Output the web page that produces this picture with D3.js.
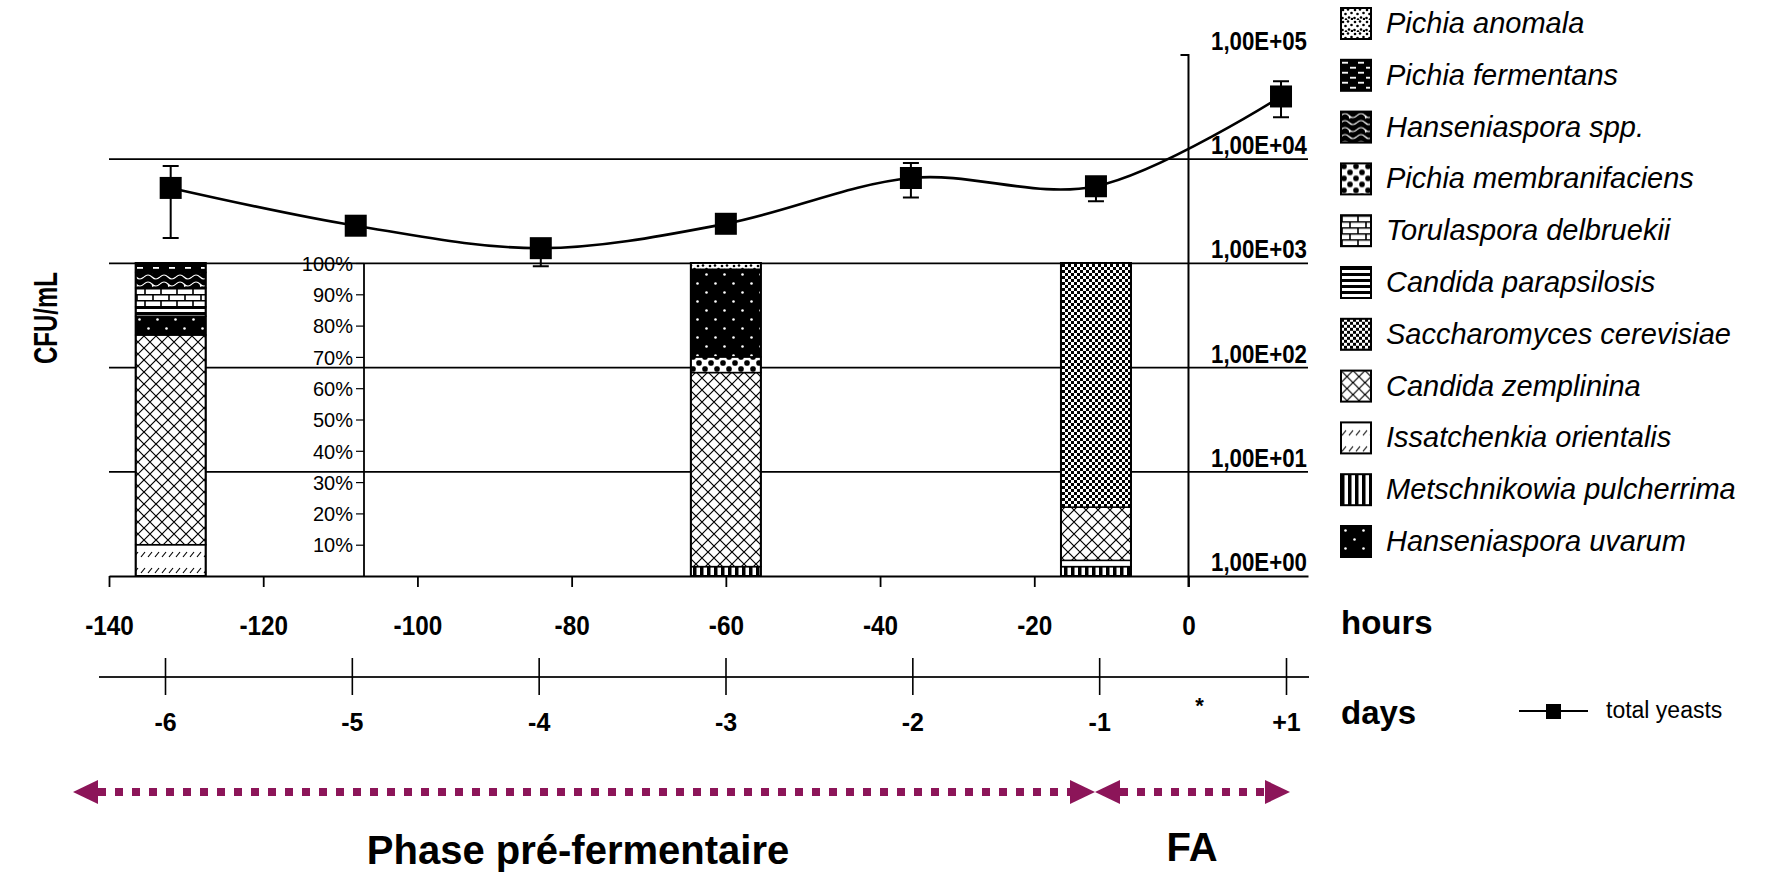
<!DOCTYPE html>
<html>
<head>
<meta charset="utf-8">
<script src="https://cdn.jsdelivr.net/npm/d3@7/dist/d3.min.js"></script>
<style>
  body { margin: 0; background: #fff; }
  svg { display: block; }
  text { font-family: "Liberation Sans", Arial, Helvetica, sans-serif; fill: #000; }
</style>
</head>
<body>
<svg id="chart" width="1770" height="873"></svg>
<script>
// ---- total yeast counts (CFU/mL) at each sampling time ----
const sampleHours = [-132, -108, -84, -60, -36, -12, 12];
const totalYeasts = [5300, 2300, 1400, 2400, 6600, 5500, 40000];
const yeastsLow   = [1750, 2050, 940, 2150, 4300, 3950, 25300];
const yeastsHigh  = [8600, 2600, 1700, 2700, 9200, 6200, 56000];

// ---- axis ticks ----
const hourTicks = [-140, -120, -100, -80, -60, -40, -20, 0];
const dayHours = [-132, -108, -84, -60, -36, -12, 12];
const dayLabels = ["-6", "-5", "-4", "-3", "-2", "-1", "+1"];
const logTicks = [1, 10, 100, 1000, 10000, 100000];
const logTickLabels = ["1,00E+00", "1,00E+01", "1,00E+02", "1,00E+03", "1,00E+04", "1,00E+05"];
const percentTicks = [10, 20, 30, 40, 50, 60, 70, 80, 90, 100];

// ---- species composition (% of isolates) at days -6, -3 and -1 ----
const barHours = [-132, -60, -12];
const species = [
  "Pichia anomala", "Pichia fermentans", "Hanseniaspora spp.", "Pichia membranifaciens",
  "Torulaspora delbruekii", "Candida parapsilosis", "Saccharomyces cerevisiae",
  "Candida zemplinina", "Issatchenkia orientalis", "Metschnikowia pulcherrima", "Hanseniaspora uvarum"
];
const pichiaAnomala            = [0, 2, 0];
const pichiaFermentans         = [3, 0, 0];
const hanseniasporaSpp         = [5, 0, 0];
const pichiaMembranifaciens    = [0, 5, 0];
const torulasporaDelbruekii    = [6, 0, 0];
const candidaParapsilosis      = [3, 0, 0];
const saccharomycesCerevisiae  = [0, 0, 78];
const candidaZemplinina        = [67, 62, 17];
const issatchenkiaOrientalis   = [10, 0, 2];
const metschnikowiaPulcherrima = [0, 3, 3];
const hanseniasporaUvarum      = [6, 28, 0];
// stacking order, bottom to top
const stackOrder = [
  "Metschnikowia pulcherrima", "Issatchenkia orientalis", "Candida zemplinina",
  "Pichia membranifaciens", "Saccharomyces cerevisiae", "Hanseniaspora uvarum",
  "Candida parapsilosis", "Torulaspora delbruekii", "Hanseniaspora spp.",
  "Pichia fermentans", "Pichia anomala"
];

const speciesValues = {
  "Pichia anomala": pichiaAnomala,
  "Pichia fermentans": pichiaFermentans,
  "Hanseniaspora spp.": hanseniasporaSpp,
  "Pichia membranifaciens": pichiaMembranifaciens,
  "Torulaspora delbruekii": torulasporaDelbruekii,
  "Candida parapsilosis": candidaParapsilosis,
  "Saccharomyces cerevisiae": saccharomycesCerevisiae,
  "Candida zemplinina": candidaZemplinina,
  "Issatchenkia orientalis": issatchenkiaOrientalis,
  "Metschnikowia pulcherrima": metschnikowiaPulcherrima,
  "Hanseniaspora uvarum": hanseniasporaUvarum
};
const patternIds = {
  "Pichia anomala": "p-pa",
  "Pichia fermentans": "p-pf",
  "Hanseniaspora spp.": "p-hs",
  "Pichia membranifaciens": "p-pm",
  "Torulaspora delbruekii": "p-td",
  "Candida parapsilosis": "p-cp",
  "Saccharomyces cerevisiae": "p-sc",
  "Candida zemplinina": "p-cz",
  "Issatchenkia orientalis": "p-io",
  "Metschnikowia pulcherrima": "p-mp",
  "Hanseniaspora uvarum": "p-hu"
};

const svg = d3.select("#chart");
const ARROW = "#8c1559";

// ---- scales ----
const x = d3.scaleLinear().domain([-140, 15.5]).range([109, 1308]);
const xDay = d3.scaleLinear().domain([-132, 12]).range([165, 1286]);
const y = d3.scaleLog().domain([1, 100000]).range([576, 55]);
const pct = d3.scaleLinear().domain([0, 100]).range([576, 263]);

// ---- fill patterns ----
const defs = svg.append("defs");
function pattern(id, w, h, bg) {
  const p = defs.append("pattern").attr("id", id).attr("patternUnits", "userSpaceOnUse")
    .attr("width", w).attr("height", h);
  p.append("rect").attr("width", w).attr("height", h).attr("fill", bg);
  return p;
}
// Pichia anomala: scattered dots
{
  const p = pattern("p-pa", 12, 12, "#fff");
  [[2,2],[7,1.5],[10.5,5],[4.5,6],[8,9.5],[1.5,10],[5,11.5],[11,11]].forEach(([cx, cy]) =>
    p.append("circle").attr("cx", cx).attr("cy", cy).attr("r", 1.3).attr("fill", "#000"));
}
// Pichia fermentans: white dashes on black
{
  const p = pattern("p-pf", 16, 10, "#000");
  p.append("rect").attr("x", 1).attr("y", 2).attr("width", 6).attr("height", 1.8).attr("fill", "#fff");
  p.append("rect").attr("x", 9).attr("y", 7).attr("width", 6).attr("height", 1.8).attr("fill", "#fff");
}
// Hanseniaspora spp.: white waves on black
{
  const p = pattern("p-hs", 16, 14, "#000");
  p.append("path").attr("d", "M0,4 Q4,0 8,4 T16,4 M0,11 Q4,7 8,11 T16,11 M8,4 L9,7")
    .attr("fill", "none").attr("stroke", "#fff").attr("stroke-width", 1.1);
}
// Pichia membranifaciens: coarse checker of rounded blobs
{
  const p = pattern("p-pm", 12, 12, "#fff");
  p.append("rect").attr("x", 0.3).attr("y", 0.3).attr("width", 5.4).attr("height", 5.4).attr("rx", 2).attr("fill", "#000");
  p.append("rect").attr("x", 6.3).attr("y", 6.3).attr("width", 5.4).attr("height", 5.4).attr("rx", 2).attr("fill", "#000");
}
// Torulaspora delbruekii: bricks
{
  const p = pattern("p-td", 16, 12, "#fff");
  p.append("path").attr("d", "M0,0.8 H16 M0,6.8 H16 M1,0 V6 M9,6 V12")
    .attr("stroke", "#000").attr("stroke-width", 1.6).attr("fill", "none");
}
// Candida parapsilosis: horizontal stripes
{
  const p = pattern("p-cp", 6, 6, "#fff");
  p.append("rect").attr("width", 6).attr("height", 3).attr("fill", "#000");
}
// Saccharomyces cerevisiae: fine checker
{
  const p = pattern("p-sc", 6, 6, "#fff");
  p.append("rect").attr("width", 3).attr("height", 3).attr("fill", "#000");
  p.append("rect").attr("x", 3).attr("y", 3).attr("width", 3).attr("height", 3).attr("fill", "#000");
}
// Candida zemplinina: diagonal crosshatch
{
  const p = pattern("p-cz", 12, 12, "#fff");
  p.append("path").attr("d", "M0,0 L12,12 M12,0 L0,12")
    .attr("stroke", "#000").attr("stroke-width", 1.2).attr("fill", "none");
}
// Issatchenkia orientalis: short slanted strokes
{
  const p = pattern("p-io", 7, 16, "#fff");
  p.append("path").attr("d", "M1,13 L5,8")
    .attr("stroke", "#000").attr("stroke-width", 1.2).attr("fill", "none");
}
// Metschnikowia pulcherrima: vertical stripes
{
  const p = pattern("p-mp", 7, 7, "#fff");
  p.append("rect").attr("width", 3.5).attr("height", 7).attr("fill", "#000");
}
// Hanseniaspora uvarum: white dots on black
{
  const p = pattern("p-hu", 18, 18, "#000");
  p.append("circle").attr("cx", 4.5).attr("cy", 4.5).attr("r", 1.3).attr("fill", "#fff");
  p.append("circle").attr("cx", 13.5).attr("cy", 13.5).attr("r", 1.3).attr("fill", "#fff");
}

// ---- decade gridlines ----
svg.append("g").selectAll("line").data(logTicks.filter(v => v > 1 && v < 100000)).join("line")
  .attr("x1", x.range()[0]).attr("x2", x.range()[1])
  .attr("y1", d => y(d)).attr("y2", d => y(d))
  .attr("stroke", "#000").attr("stroke-width", 1.8);

// decade labels on the right (condensed bold)
svg.append("g").selectAll("text").data(logTicks).join("text")
  .attr("x", 1307).attr("y", d => y(d) - 5)
  .attr("text-anchor", "end").attr("font-size", 25).attr("font-weight", "bold")
  .attr("textLength", 96).attr("lengthAdjust", "spacingAndGlyphs")
  .text((d, i) => logTickLabels[i]);

// ---- percentage axis ----
const pctAxis = svg.append("g").attr("transform", "translate(364,0)")
  .call(d3.axisLeft(pct).tickValues(percentTicks).tickSize(8).tickSizeOuter(0).tickPadding(3)
    .tickFormat(d => d + "%"));
pctAxis.select(".domain").attr("stroke-width", 1.8).attr("d", `M0,${pct(100)}V${pct(0)}`);
pctAxis.selectAll(".tick line").attr("stroke-width", 1.2);
pctAxis.selectAll(".tick text").attr("font-size", 20).attr("font-family", "Liberation Sans, Arial, sans-serif")
  .attr("dy", "0.36em");

// ---- stacked composition bars ----
const barTable = barHours.map((h, i) => {
  const row = { h };
  species.forEach(s => row[s] = speciesValues[s][i]);
  return row;
});
const stacked = d3.stack().keys(stackOrder)(barTable);
const barW = 70;
const barsG = svg.append("g");
stacked.forEach(layer => {
  barsG.append("g").selectAll("rect").data(layer.filter(d => d[1] - d[0] > 0)).join("rect")
    .attr("x", d => x(d.data.h) - barW / 2)
    .attr("width", barW)
    .attr("y", d => pct(d[1]))
    .attr("height", d => pct(d[0]) - pct(d[1]))
    .attr("fill", `url(#${patternIds[layer.key]})`)
    .attr("stroke", "#000").attr("stroke-width", 1.5);
});
barsG.append("g").selectAll("rect").data(barHours).join("rect")
  .attr("x", d => x(d) - barW / 2).attr("width", barW)
  .attr("y", pct(100)).attr("height", pct(0) - pct(100))
  .attr("fill", "none").attr("stroke", "#000").attr("stroke-width", 2);

// ---- hours axis ----
const hoursAxis = svg.append("g").attr("transform", `translate(0,${y(1)})`)
  .call(d3.axisBottom(x).tickValues(hourTicks).tickSize(11).tickSizeOuter(0).tickPadding(29)
    .tickFormat(d => d));
hoursAxis.select(".domain").attr("stroke-width", 2);
hoursAxis.selectAll(".tick line").attr("stroke-width", 1.8);
hoursAxis.selectAll(".tick text").attr("font-size", 27).attr("font-weight", "bold")
  .attr("font-family", "Liberation Sans, Arial, sans-serif")
  .each(function () {
    const t = d3.select(this);
    t.attr("textLength", this.getComputedTextLength() * 0.9).attr("lengthAdjust", "spacingAndGlyphs");
  });

// vertical axis at time zero
svg.append("path")
  .attr("d", `M${x(0) - 8},${y(100000)}H${x(0)}V${y(1) + 11}`)
  .attr("fill", "none").attr("stroke", "#000").attr("stroke-width", 2);

svg.append("text").attr("x", 1341).attr("y", 634)
  .attr("font-size", 33).attr("font-weight", "bold").text("hours");

// ---- days axis ----
const dayAxis = svg.append("g").attr("transform", "translate(0,677)")
  .call(d3.axisBottom(xDay).tickValues(dayHours).tickSize(19).tickSizeOuter(0).tickPadding(17)
    .tickFormat((d, i) => dayLabels[i]));
dayAxis.select(".domain").attr("d", "M99,0H1309").attr("stroke-width", 2.2).attr("stroke", "#222");
dayAxis.selectAll(".tick line").attr("y1", -19).attr("y2", 18).attr("stroke-width", 1.6);
dayAxis.selectAll(".tick text").attr("font-size", 25).attr("font-weight", "bold")
  .attr("font-family", "Liberation Sans, Arial, sans-serif");
svg.append("text").attr("x", xDay(0) + 7).attr("y", 713).attr("text-anchor", "middle")
  .attr("font-size", 22).attr("font-weight", "bold").text("*");
svg.append("text").attr("x", 1341).attr("y", 724)
  .attr("font-size", 33).attr("font-weight", "bold").text("days");

// ---- y axis title ----
svg.append("text").attr("transform", "translate(57,318) rotate(-90)")
  .attr("text-anchor", "middle").attr("font-size", 33).attr("font-weight", "bold")
  .attr("textLength", 92).attr("lengthAdjust", "spacingAndGlyphs").text("CFU/mL");

// ---- total yeasts curve ----
const pts = sampleHours.map((h, i) => ({ h, v: totalYeasts[i], lo: yeastsLow[i], hi: yeastsHigh[i] }));
const lineG = svg.append("g");
lineG.append("path").datum(pts)
  .attr("d", d3.line().x(d => x(d.h)).y(d => y(d.v)).curve(d3.curveCatmullRom.alpha(0.5)))
  .attr("fill", "none").attr("stroke", "#000").attr("stroke-width", 2.6);
const eb = lineG.append("g").selectAll("g").data(pts).join("g");
eb.append("path")
  .attr("d", d => `M${x(d.h)},${y(d.hi)}V${y(d.lo)}M${x(d.h) - 8},${y(d.hi)}H${x(d.h) + 8}M${x(d.h) - 8},${y(d.lo)}H${x(d.h) + 8}`)
  .attr("stroke", "#000").attr("stroke-width", 2).attr("fill", "none");
eb.append("rect")
  .attr("x", d => x(d.h) - 11).attr("y", d => y(d.v) - 11)
  .attr("width", 22).attr("height", 22).attr("fill", "#000");

// ---- species legend ----
const legend = svg.append("g").attr("transform", "translate(1341,8)");
const rowH = 51.8;
const li = legend.selectAll("g").data(species).join("g")
  .attr("transform", (d, i) => `translate(0,${i * rowH})`);
li.append("rect").attr("width", 30).attr("height", 31)
  .attr("fill", d => `url(#${patternIds[d]})`).attr("stroke", "#000").attr("stroke-width", 2);
li.append("text").attr("x", 45).attr("y", 25).attr("font-size", 29).attr("font-style", "italic")
  .text(d => d);

// total yeasts key
svg.append("line").attr("x1", 1519).attr("x2", 1588).attr("y1", 711).attr("y2", 711)
  .attr("stroke", "#000").attr("stroke-width", 2.2);
svg.append("rect").attr("x", 1546).attr("y", 704).attr("width", 15).attr("height", 15).attr("fill", "#000");
svg.append("text").attr("x", 1606).attr("y", 718).attr("font-size", 23).text("total yeasts");

// ---- phase arrows ----
function phaseArrow(x0, x1, yy) {
  const g = svg.append("g");
  g.append("line").attr("x1", x0 + 25).attr("x2", x1 - 25).attr("y1", yy).attr("y2", yy)
    .attr("stroke", ARROW).attr("stroke-width", 8).attr("stroke-dasharray", "8,9");
  g.append("path").attr("d", `M${x0},${yy}L${x0 + 25},${yy - 12}V${yy + 12}Z`).attr("fill", ARROW);
  g.append("path").attr("d", `M${x1},${yy}L${x1 - 25},${yy - 12}V${yy + 12}Z`).attr("fill", ARROW);
}
phaseArrow(73, 1095, 792);
phaseArrow(1095, 1290, 792);

svg.append("text").attr("x", 578).attr("y", 864).attr("text-anchor", "middle")
  .attr("font-family", "Lato, 'Open Sans', sans-serif").attr("font-weight", "bold")
  .attr("font-size", 40).text("Phase pré-fermentaire");
svg.append("text").attr("x", 1192).attr("y", 861).attr("text-anchor", "middle")
  .attr("font-family", "Lato, 'Open Sans', sans-serif").attr("font-weight", "bold")
  .attr("font-size", 40).text("FA");
</script>
</body>
</html>
